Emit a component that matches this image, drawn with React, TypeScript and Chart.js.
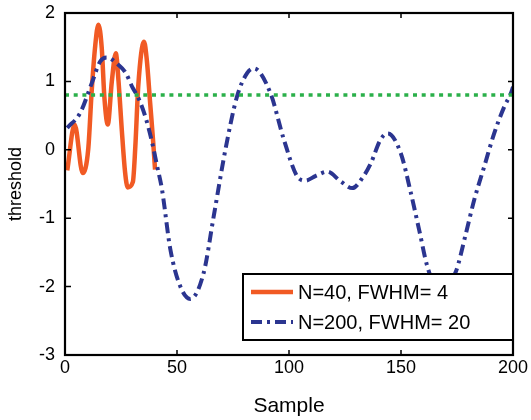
import React, { useEffect, useRef } from 'react';
import { Chart, registerables } from 'chart.js';

Chart.register(...registerables);

const xTickValues = [0, 50, 100, 150, 200];
const yTickValues = [-3, -2, -1, 0, 1, 2];
const xAxisTitle = 'Sample';
const yAxisTitle = 'threshold';
const seriesNames = ['N=40, FWHM= 4', 'N=200, FWHM= 20'];

const n40X = [1, 4.3, 7.9, 10.4, 11.9, 13.4, 14.9, 16.4, 17.6, 19.1, 20.9, 22.7, 23.9, 25.4, 26.8, 28, 30.3, 31.4, 32.7, 35.3, 36.5, 38, 39.4, 40.2];
const n40Y = [-0.3, 0.37, -0.34, 0.02, 0.85, 1.49, 1.83, 1.49, 0.76, 0.37, 1.0, 1.41, 1.0, 0.27, -0.32, -0.55, -0.47, 0.05, 0.93, 1.58, 1.32, 0.69, 0.1, -0.29];

const n200X = [1, 6.8, 11.9, 15.7, 18.6, 23.9, 27, 30, 33, 36, 38.8, 41, 43.3, 47, 51.5, 55.9, 61.9, 66.4, 71.6, 76.8, 81.3, 84.3, 91.7, 97.7, 103.7, 107.4, 112, 117.1, 123, 128.3, 132.8, 136.5, 140.9, 144.2, 149.9, 154.4, 158.1, 161.8, 167.5, 174.5, 179, 182.7, 187.2, 191.6, 196.1, 199.1, 200];
const n200Y = [0.32, 0.54, 0.97, 1.29, 1.35, 1.24, 1.13, 0.92, 0.74, 0.47, 0.12, -0.22, -0.58, -1.45, -2.0, -2.18, -1.8, -0.97, 0.0, 0.78, 1.12, 1.19, 0.83, 0.15, -0.39, -0.45, -0.38, -0.32, -0.46, -0.56, -0.41, -0.2, 0.15, 0.24, -0.05, -0.63, -1.17, -1.71, -2.1, -1.78, -1.22, -0.73, -0.24, 0.24, 0.63, 0.83, 0.92];

const thresholdX = [0, 200];
const thresholdY = [0.8, 0.8];

const FONT = "'Liberation Sans', Arial, Helvetica, sans-serif";

const toPoints = (xs: number[], ys: number[]) => xs.map((x, i) => ({ x, y: ys[i] }));

const framePlugin = {
  id: 'frameTicks',
  afterDatasetsDraw(chart: any) {
    const { ctx, chartArea: a, scales } = chart;
    ctx.save();
    ctx.strokeStyle = '#000';
    ctx.lineWidth = 1.5;
    ctx.setLineDash([]);
    ctx.beginPath();
    for (const v of xTickValues) {
      const px = scales.x.getPixelForValue(v);
      ctx.moveTo(px, a.bottom);
      ctx.lineTo(px, a.bottom - 5);
      ctx.moveTo(px, a.top);
      ctx.lineTo(px, a.top + 5);
    }
    for (const v of yTickValues) {
      const py = scales.y.getPixelForValue(v);
      ctx.moveTo(a.left, py);
      ctx.lineTo(a.left + 6, py);
      ctx.moveTo(a.right, py);
      ctx.lineTo(a.right - 5, py);
    }
    ctx.stroke();
    ctx.lineWidth = 2.2;
    ctx.strokeRect(a.left, a.top, a.right - a.left, a.bottom - a.top);
    ctx.restore();
  },
};

const boxLegendPlugin = {
  id: 'boxLegend',
  afterDraw(chart: any) {
    const { ctx, chartArea: a } = chart;
    const items = seriesNames
      .map((name) => chart.data.datasets.find((d: any) => d.label === name))
      .filter(Boolean);
    const w = 270;
    const h = 66;
    const left = a.right - w;
    const top = a.bottom - 15 - h;
    ctx.save();
    ctx.fillStyle = '#fff';
    ctx.fillRect(left, top, w, h);
    ctx.strokeStyle = '#000';
    ctx.lineWidth = 2;
    ctx.setLineDash([]);
    ctx.strokeRect(left, top, w, h);
    items.forEach((d: any, i: number) => {
      const cy = top + 18 + i * 30;
      ctx.beginPath();
      ctx.strokeStyle = d.borderColor;
      ctx.lineWidth = d.borderWidth;
      ctx.setLineDash(d.borderDash || []);
      ctx.moveTo(left + 8, cy);
      ctx.lineTo(left + 50, cy);
      ctx.stroke();
      ctx.setLineDash([]);
      ctx.fillStyle = '#000';
      ctx.font = `20px ${FONT}`;
      ctx.textBaseline = 'middle';
      ctx.textAlign = 'left';
      ctx.fillText(d.label, left + 55, cy + 1);
    });
    ctx.restore();
  },
};

export default function App() {
  const canvasRef = useRef<HTMLCanvasElement | null>(null);

  useEffect(() => {
    if (!canvasRef.current) return;
    const chart = new Chart(canvasRef.current, {
      type: 'line',
      data: {
        datasets: [
          {
            label: 'threshold 0.8',
            data: toPoints(thresholdX, thresholdY),
            borderColor: '#2bb04a',
            borderWidth: 3.5,
            borderDash: [4, 4.7],
            pointRadius: 0,
            fill: false,
          },
          {
            label: seriesNames[1],
            data: toPoints(n200X, n200Y),
            borderColor: '#2b3590',
            borderWidth: 4,
            borderDash: [11, 5, 3, 5],
            pointRadius: 0,
            cubicInterpolationMode: 'monotone',
            fill: false,
          },
          {
            label: seriesNames[0],
            data: toPoints(n40X, n40Y),
            borderColor: '#f15a24',
            borderWidth: 4.5,
            pointRadius: 0,
            cubicInterpolationMode: 'monotone',
            fill: false,
          },
        ],
      },
      options: {
        responsive: false,
        animation: false,
        devicePixelRatio: 1,
        layout: { padding: { left: 0, right: 18, top: 13, bottom: 0 } },
        plugins: { legend: { display: false }, tooltip: { enabled: false } },
        scales: {
          x: {
            type: 'linear',
            min: 0,
            max: 200,
            afterFit: (s: any) => { s.height = 65; s.paddingLeft = 0; s.paddingRight = 0; },
            afterBuildTicks: (s: any) => { s.ticks = xTickValues.map((v) => ({ value: v })); },
            grid: { display: false, drawTicks: false },
            border: { display: false },
            ticks: { color: '#000', font: { family: FONT, size: 18 }, padding: 2, maxRotation: 0 },
            title: { display: true, text: xAxisTitle, color: '#000', font: { family: FONT, size: 21 }, padding: { top: 0, bottom: 1 } },
          },
          y: {
            type: 'linear',
            min: -3,
            max: 2,
            afterFit: (s: any) => { s.width = 65; s.paddingTop = 0; s.paddingBottom = 0; },
            afterBuildTicks: (s: any) => { s.ticks = yTickValues.map((v) => ({ value: v })); },
            grid: { display: false, drawTicks: false },
            border: { display: false },
            ticks: { color: '#000', font: { family: FONT, size: 18 }, padding: 10 },
            title: { display: true, text: yAxisTitle, color: '#000', font: { family: FONT, size: 18 }, padding: { top: 5.7, bottom: 0 } },
          },
        },
      },
      plugins: [framePlugin, boxLegendPlugin],
    } as any);
    return () => chart.destroy();
  }, []);

  return (
    <div style={{ position: 'absolute', left: 0, top: 0, width: 531, height: 420, background: '#fff' }}>
      <canvas ref={canvasRef} width={531} height={420} style={{ display: 'block' }} />
    </div>
  );
}
